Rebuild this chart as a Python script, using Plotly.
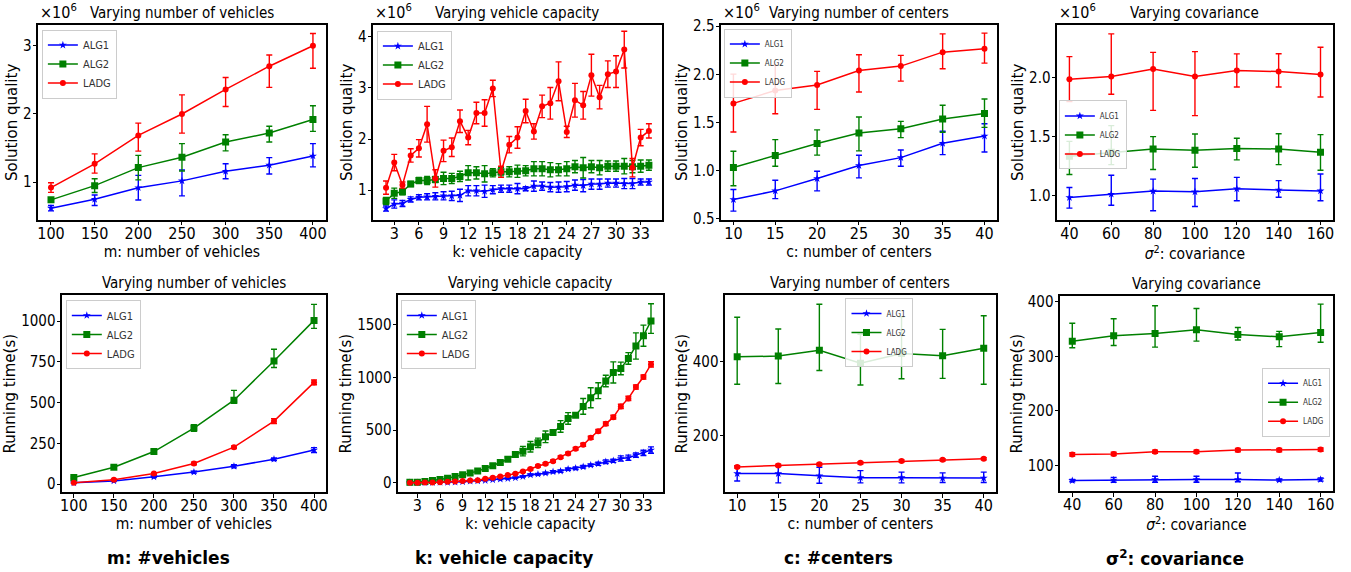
import plotly.graph_objects as go

# ---------------- data ----------------
m_vals = [100, 150, 200, 250, 300, 350, 400]
k_vals = list(range(2, 35))
c_vals = [10, 15, 20, 25, 30, 35, 40]
s_vals = [40, 60, 80, 100, 120, 140, 160]

# Solution quality (x10^6) vs m
q_m_alg1 = [0.62, 0.75, 0.92, 1.02, 1.16, 1.25, 1.385]
q_m_alg1_hi = [0.04, 0.063, 0.18, 0.16, 0.11, 0.11, 0.18]
q_m_alg1_lo = [0.04, 0.09, 0.18, 0.22, 0.11, 0.13, 0.16]
q_m_alg2 = [0.742, 0.95, 1.214, 1.365, 1.589, 1.72, 1.92]
q_m_alg2_hi = [0.03, 0.1, 0.18, 0.2, 0.107, 0.1, 0.2]
q_m_alg2_lo = [0.03, 0.1, 0.18, 0.2, 0.13, 0.13, 0.175]
q_m_ladg = [0.922, 1.27, 1.686, 2.0, 2.36, 2.70, 3.0]
q_m_ladg_hi = [0.07, 0.146, 0.18, 0.28, 0.175, 0.165, 0.18]
q_m_ladg_lo = [0.07, 0.136, 0.23, 0.28, 0.25, 0.31, 0.33]

# Solution quality (x10^6) vs k
q_k_alg1 = [0.64, 0.73, 0.74, 0.82, 0.86, 0.87, 0.88, 0.89, 0.89, 0.90, 0.99, 0.99, 0.98, 1.01, 1.03, 1.03, 1.03,
            1.03, 1.08, 1.08, 1.06, 1.06, 1.07, 1.10, 1.09, 1.12, 1.12, 1.14, 1.14, 1.13, 1.13, 1.16, 1.16]
q_k_alg1_err = [0.05, 0.08, 0.06, 0.05, 0.05, 0.06, 0.07, 0.08, 0.09, 0.12, 0.1, 0.1, 0.12, 0.08, 0.07, 0.07, 0.1,
                0.04, 0.1, 0.08, 0.09, 0.1, 0.1, 0.1, 0.12, 0.1, 0.1, 0.08, 0.08, 0.1, 0.1, 0.06, 0.06]
q_k_alg2 = [0.79, 0.94, 0.97, 1.12, 1.19, 1.19, 1.21, 1.23, 1.23, 1.27, 1.34, 1.34, 1.32, 1.34, 1.36, 1.36, 1.37,
            1.38, 1.42, 1.42, 1.40, 1.40, 1.42, 1.46, 1.44, 1.46, 1.44, 1.47, 1.47, 1.47, 1.46, 1.47, 1.49]
q_k_alg2_err = [0.07, 0.1, 0.06, 0.05, 0.06, 0.08, 0.06, 0.12, 0.1, 0.1, 0.14, 0.12, 0.16, 0.08, 0.08, 0.1, 0.12,
                0.1, 0.14, 0.14, 0.14, 0.12, 0.14, 0.12, 0.2, 0.12, 0.14, 0.1, 0.1, 0.15, 0.12, 0.12, 0.1]
q_k_ladg = [1.05, 1.54, 1.10, 1.68, 1.82, 2.29, 1.23, 1.77, 1.84, 2.35, 2.03, 2.51, 2.51, 2.99, 1.36, 1.89, 2.03,
            2.55, 2.15, 2.64, 2.70, 3.13, 2.14, 2.76, 2.66, 3.25, 2.82, 3.27, 3.32, 3.75, 1.44, 2.03, 2.16]
q_k_ladg_err = [0.13, 0.16, 0.06, 0.13, 0.17, 0.35, 0.17, 0.21, 0.18, 0.22, 0.14, 0.21, 0.26, 0.16, 0.11, 0.16, 0.21,
                0.23, 0.15, 0.22, 0.31, 0.38, 0.11, 0.33, 0.27, 0.41, 0.23, 0.26, 0.31, 0.36, 0.18, 0.16, 0.14]

# Solution quality (x10^6) vs c
q_c_alg1 = [0.697, 0.787, 0.915, 1.05, 1.133, 1.282, 1.358]
q_c_alg1_hi = [0.104, 0.111, 0.076, 0.107, 0.080, 0.125, 0.128]
q_c_alg1_lo = [0.121, 0.080, 0.128, 0.128, 0.090, 0.118, 0.166]
q_c_alg2 = [1.03, 1.154, 1.28, 1.39, 1.434, 1.535, 1.593]
q_c_alg2_hi = [0.170, 0.166, 0.142, 0.166, 0.076, 0.142, 0.149]
q_c_alg2_lo = [0.190, 0.111, 0.121, 0.187, 0.093, 0.138, 0.145]
q_c_ladg = [1.697, 1.832, 1.888, 2.04, 2.085, 2.23, 2.265]
q_c_ladg_hi = [0.304, 0.263, 0.142, 0.163, 0.111, 0.190, 0.163]
q_c_ladg_lo = [0.298, 0.242, 0.253, 0.225, 0.156, 0.173, 0.149]

# Solution quality (x10^6) vs sigma^2
q_s_alg1 = [0.986, 1.014, 1.04, 1.034, 1.06, 1.05, 1.042]
q_s_alg1_hi = [0.084, 0.160, 0.101, 0.112, 0.096, 0.079, 0.143]
q_s_alg1_lo = [0.090, 0.093, 0.166, 0.124, 0.101, 0.062, 0.084]
q_s_alg2 = [1.334, 1.368, 1.396, 1.385, 1.40, 1.396, 1.368]
q_s_alg2_hi = [0.126, 0.225, 0.104, 0.138, 0.087, 0.129, 0.149]
q_s_alg2_lo = [0.154, 0.104, 0.174, 0.143, 0.096, 0.132, 0.152]
q_s_ladg = [1.986, 2.008, 2.072, 2.008, 2.059, 2.05, 2.025]
q_s_ladg_hi = [0.19, 0.36, 0.14, 0.21, 0.14, 0.15, 0.23]
q_s_ladg_lo = [0.19, 0.15, 0.35, 0.33, 0.14, 0.13, 0.19]

# Running time (s) vs m
t_m_alg1 = [8, 20, 45, 74, 110, 153, 209]
t_m_alg1_hi = [3, 4, 5, 6, 10, 8, 15]
t_m_alg1_lo = [3, 4, 5, 6, 10, 8, 15]
t_m_alg2 = [41, 104, 200, 344, 515, 755, 1004]
t_m_alg2_hi = [5, 8, 10, 20, 60, 72, 98]
t_m_alg2_lo = [5, 8, 10, 20, 20, 40, 49]
t_m_ladg = [8, 27, 65, 127, 227, 387, 624]
t_m_ladg_hi = [3, 5, 6, 8, 8, 15, 15]
t_m_ladg_lo = [3, 5, 6, 8, 8, 15, 15]

# Running time (s) vs k
t_k_alg1 = [1, 1, 2, 3, 4, 5, 7, 10, 16, 19, 22, 29, 35, 41, 48, 60, 76, 82, 92, 105, 111, 130, 139, 152, 168,
            181, 200, 209, 231, 238, 263, 285, 311]
t_k_alg1_err = [1, 1, 1, 1, 2, 2, 2, 3, 3, 3, 4, 4, 5, 5, 6, 6, 8, 8, 8, 10, 10, 10, 12, 12, 12, 15, 18, 15, 25,
                25, 20, 25, 30]
t_k_alg2 = [6, 6, 13, 22, 32, 44, 60, 76, 92, 111, 136, 162, 193, 225, 269, 301, 342, 380, 437, 479, 536, 612,
            643, 726, 808, 875, 967, 1049, 1087, 1182, 1300, 1398, 1537]
t_k_alg2_hi = [3, 3, 3, 4, 5, 5, 6, 8, 10, 12, 15, 15, 15, 20, 25, 45, 50, 45, 55, 25, 55, 55, 20, 75, 95, 75,
               55, 100, 60, 55, 125, 100, 165]
t_k_alg2_lo = [3, 3, 3, 4, 5, 5, 6, 8, 10, 12, 15, 15, 15, 20, 25, 45, 50, 45, 55, 25, 55, 55, 20, 75, 95, 75,
               55, 100, 60, 55, 125, 100, 117]
t_k_ladg = [0, 0, 3, 3, 6, 10, 13, 16, 22, 25, 38, 48, 60, 73, 86, 108, 130, 159, 181, 206, 244, 279, 323, 361,
            428, 491, 561, 624, 726, 802, 910, 1005, 1125]
t_k_ladg_err = [1, 1, 1, 1, 2, 2, 2, 3, 3, 3, 4, 5, 5, 6, 6, 8, 8, 10, 10, 10, 12, 12, 12, 15, 15, 15, 18, 18,
                20, 20, 20, 20, 25]

# Running time (s) vs c
t_c_alg1 = [98, 98, 92, 87, 87, 86, 86]
t_c_alg1_hi = [20, 20, 23, 19, 15, 14, 16]
t_c_alg1_lo = [20, 25, 20, 14, 14, 12, 12]
t_c_alg2 = [413, 415, 431, 396, 422, 416, 436]
t_c_alg2_hi = [107, 73, 124, 78, 99, 71, 88]
t_c_alg2_lo = [74, 74, 55, 59, 68, 61, 97]
t_c_ladg = [116, 120, 123, 127, 132, 135, 138]
t_c_ladg_err = [3, 3, 3, 3, 3, 3, 3]

# Running time (s) vs sigma^2
t_s_alg1 = [72, 73, 74, 74, 74, 73, 74]
t_s_alg1_hi = [2, 5, 6, 6, 12, 2, 3]
t_s_alg1_lo = [2, 4, 5, 5, 4, 2, 3]
t_s_alg2 = [328, 338, 342, 349, 340, 336, 344]
t_s_alg2_hi = [33, 31, 51, 39, 13, 10, 52]
t_s_alg2_lo = [12, 18, 25, 21, 10, 18, 18]
t_s_ladg = [120, 121, 125, 125, 128, 128, 129]
t_s_ladg_err = [3, 3, 3, 3, 3, 3, 3]

series_names = ["ALG1", "ALG2", "LADG"]
titles_top = ["Varying number of vehicles", "Varying vehicle capacity", "Varying number of centers", "Varying covariance"]
xlabels = ["m: number of vehicles", "k: vehicle capacity", "c: number of centers", "<i>σ</i><sup>2</sup>: covariance"]
bottom_labels = ["m: #vehicles", "k: vehicle capacity", "c: #centers", "σ<sup>2</sup>: covariance"]

# ---------------- styling ----------------
W, H = 1351, 572
FONT = "Liberation Sans Narrow, DejaVu Sans Condensed, DejaVu Sans, sans-serif"
COLORS = ["#0000ff", "#008000", "#ff0000"]
SYMBOLS = ["star", "square", "circle"]
MSIZE = [6, 7, 6]


def fy(y):
    # compensate the vertical placement observed in the rendered page
    return (y - 4.4) / 0.976


# panel boxes in pixels: (left, right, top, bottom)
boxes = [
    (36, 325, 22, 218), (372, 662, 22, 218), (721, 998, 22, 218), (1058, 1335, 22, 218),
    (60, 325, 293, 491), (397, 663, 293, 491), (725, 997, 293, 491), (1061, 1335, 294, 490),
]

fig = go.Figure()

panels = [
    dict(x=m_vals, ys=[(q_m_alg1, q_m_alg1_hi, q_m_alg1_lo), (q_m_alg2, q_m_alg2_hi, q_m_alg2_lo), (q_m_ladg, q_m_ladg_hi, q_m_ladg_lo)],
         xr=[85, 415], yr=[0.445, 3.31], xt=m_vals, yt=[1, 2, 3], yfmt=None, ylab="Solution quality",
         leg=(40, 27, "left", 11)),
    dict(x=k_vals, ys=[(q_k_alg1, q_k_alg1_err, q_k_alg1_err), (q_k_alg2, q_k_alg2_err, q_k_alg2_err), (q_k_ladg, q_k_ladg_err, q_k_ladg_err)],
         xr=[0.4, 35.6], yr=[0.415, 4.24], xt=list(range(3, 34, 3)), yt=[1, 2, 3, 4], yfmt=None, ylab="Solution quality",
         leg=(376, 28, "left", 11)),
    dict(x=c_vals, ys=[(q_c_alg1, q_c_alg1_hi, q_c_alg1_lo), (q_c_alg2, q_c_alg2_hi, q_c_alg2_lo), (q_c_ladg, q_c_ladg_hi, q_c_ladg_lo)],
         xr=[8.5, 41.5], yr=[0.483, 2.517], xt=c_vals, yt=[0.5, 1.0, 1.5, 2.0, 2.5], yfmt=".1f", ylab="Solution quality",
         leg=(724, 26, "left", 8)),
    dict(x=s_vals, ys=[(q_s_alg1, q_s_alg1_hi, q_s_alg1_lo), (q_s_alg2, q_s_alg2_hi, q_s_alg2_lo), (q_s_ladg, q_s_ladg_hi, q_s_ladg_lo)],
         xr=[34, 166], yr=[0.795, 2.447], xt=s_vals, yt=[1.0, 1.5, 2.0], yfmt=".1f", ylab="Solution quality",
         leg=(1060, 98, "left", 8)),
    dict(x=m_vals, ys=[(t_m_alg1, t_m_alg1_hi, t_m_alg1_lo), (t_m_alg2, t_m_alg2_hi, t_m_alg2_lo), (t_m_ladg, t_m_ladg_hi, t_m_ladg_lo)],
         xr=[85, 415], yr=[-51, 1160], xt=m_vals, yt=[0, 250, 500, 750, 1000], yfmt=None, ylab="Running time(s)",
         leg=(64, 298, "left", 11)),
    dict(x=k_vals, ys=[(t_k_alg1, t_k_alg1_err, t_k_alg1_err), (t_k_alg2, t_k_alg2_hi, t_k_alg2_lo), (t_k_ladg, t_k_ladg_err, t_k_ladg_err)],
         xr=[0.4, 35.6], yr=[-92, 1785], xt=list(range(3, 34, 3)), yt=[0, 500, 1000, 1500], yfmt=None, ylab="Running time(s)",
         leg=(400, 298, "left", 11)),
    dict(x=c_vals, ys=[(t_c_alg1, t_c_alg1_hi, t_c_alg1_lo), (t_c_alg2, t_c_alg2_hi, t_c_alg2_lo), (t_c_ladg, t_c_ladg_err, t_c_ladg_err)],
         xr=[8.5, 41.5], yr=[47, 580], xt=c_vals, yt=[200, 400], yfmt=None, ylab="Running time(s)",
         leg=(846, 296, "left", 8)),
    dict(x=s_vals, ys=[(t_s_alg1, t_s_alg1_hi, t_s_alg1_lo), (t_s_alg2, t_s_alg2_hi, t_s_alg2_lo), (t_s_ladg, t_s_ladg_err, t_s_ladg_err)],
         xr=[34, 166], yr=[52, 411], xt=s_vals, yt=[100, 200, 300, 400], yfmt=None, ylab="Running time(s)",
         leg=(1332, 366, "right", 8)),
]

layout_axes = {}
annotations = []
for i, p in enumerate(panels):
    n = i + 1
    xa = "x" if n == 1 else f"x{n}"
    ya = "y" if n == 1 else f"y{n}"
    legname = "legend" if n == 1 else f"legend{n}"
    l, r, t, b = boxes[i]
    t, b = fy(t), fy(b)
    for j in range(3):
        yv, hi, lo = p["ys"][j]
        fig.add_trace(go.Scatter(
            x=p["x"], y=yv, name=series_names[j], mode="lines+markers",
            line=dict(color=COLORS[j], width=1.5),
            marker=dict(symbol=SYMBOLS[j], size=MSIZE[j], color=COLORS[j]),
            error_y=dict(type="data", array=hi, arrayminus=lo, symmetric=False,
                         color=COLORS[j], thickness=1.4, width=3),
            xaxis=xa, yaxis=ya, legend=legname, showlegend=True,
        ))
    xtick_font = dict(family=FONT, size=16, color="black")
    ytick_font = dict(family=FONT, size=15, color="black")
    title_font = dict(family=FONT, size=15.5, color="black")
    layout_axes["xaxis" if n == 1 else f"xaxis{n}"] = dict(
        domain=[l / W, r / W], anchor=ya, range=p["xr"], tickvals=p["xt"],
        showline=True, mirror=True, linecolor="black", linewidth=1.6,
        ticks="outside", ticklen=3.5, tickwidth=1.2, tickcolor="black",
        showgrid=False, zeroline=False, tickfont=xtick_font, ticklabelstandoff=-6,
        title=dict(text=xlabels[i % 4], font=title_font, standoff=1),
    )
    yax = dict(
        domain=[1 - b / H, 1 - t / H], anchor=xa, range=p["yr"], tickvals=p["yt"],
        showline=True, mirror=True, linecolor="black", linewidth=1.6,
        ticks="outside", ticklen=3.5, tickwidth=1.2, tickcolor="black",
        showgrid=False, zeroline=False, tickfont=ytick_font, ticklabelstandoff=-2,
        title=dict(text=p["ylab"], font=dict(family="DejaVu Sans", size=15, color="black"), standoff=2),
    )
    if p["yfmt"]:
        yax["tickformat"] = p["yfmt"]
    layout_axes["yaxis" if n == 1 else f"yaxis{n}"] = yax

    lx, ly, lanchor, lfs = p["leg"]
    layout_axes[legname] = dict(
        x=lx / W, y=1 - fy(ly) / H, xanchor=lanchor, yanchor="top",
        font=dict(family=FONT, size=lfs, color="#333333"),
        bgcolor="rgba(255,255,255,0.85)", bordercolor="#cccccc", borderwidth=1,
        itemwidth=30, tracegroupgap=0,
    )

    # panel title
    annotations.append(dict(
        text=titles_top[i % 4], x=(l + r) / 2 / W, y=1 - (t - 1) / H,
        xref="paper", yref="paper", xanchor="center", yanchor="bottom", showarrow=False,
        font=dict(family=FONT, size=15, color="black"),
    ))
    if i < 4:
        annotations.append(dict(
            text="×10<sup>6</sup>", x=l / W, y=1 - (t - 1) / H,
            xref="paper", yref="paper", xanchor="left", yanchor="bottom", showarrow=False,
            font=dict(family=FONT, size=16, color="black"),
        ))

# bottom bold labels
centers_px = [167, 503, 839, 1176]
for i, txt in enumerate(bottom_labels):
    annotations.append(dict(
        text=f"<b>{txt}</b>", x=centers_px[i] / W, y=1 - fy(557) / H,
        xref="paper", yref="paper", xanchor="center", yanchor="middle", showarrow=False,
        font=dict(family="DejaVu Sans", size=17, color="black"),
    ))

fig.update_layout(
    width=W, height=H, margin=dict(l=0, r=0, t=0, b=0),
    paper_bgcolor="white", plot_bgcolor="white",
    annotations=annotations, **layout_axes,
)

fig.write_html("out.html", config={"displayModeBar": False},
               post_script="document.body.style.margin='0';document.body.style.overflow='hidden';")
